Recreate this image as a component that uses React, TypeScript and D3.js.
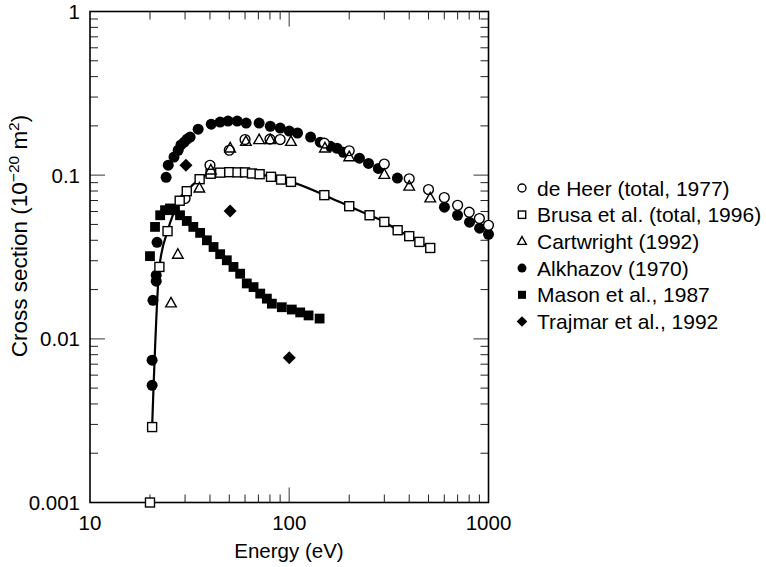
import React from "react";
import * as d3 from "d3";

// ---- data (energy in eV, cross section in 1e-20 m^2) ----
const deHeerE = [30, 40, 50, 60, 80, 90, 150, 200, 300, 400, 500, 600, 700, 800, 900, 1000];
const deHeerS = [0.072, 0.115, 0.142, 0.165, 0.166, 0.165, 0.157, 0.141, 0.117, 0.095, 0.0817, 0.073, 0.0655, 0.0594, 0.0543, 0.0494];

const brusaE = [20, 20.5, 22.3, 24.5, 28.2, 30.6, 35.5, 40.3, 45, 50, 55, 60, 65, 71, 81, 91, 102, 150, 200, 253, 300, 350, 400, 450, 510];
const brusaS = [0.001, 0.00289, 0.0275, 0.0455, 0.0698, 0.0798, 0.0945, 0.102, 0.1036, 0.1043, 0.104, 0.104, 0.1024, 0.1014, 0.0977, 0.094, 0.091, 0.0755, 0.0646, 0.0569, 0.0518, 0.0461, 0.0424, 0.0391, 0.0359];

const cartE = [25.5, 27.6, 35.4, 40.4, 50.5, 60.6, 70.6, 80.3, 102, 151, 200, 300, 400, 510];
const cartS = [0.0165, 0.0327, 0.083, 0.107, 0.146, 0.16, 0.164, 0.164, 0.16, 0.146, 0.129, 0.1007, 0.0853, 0.0723];

const alkE = [20.5, 20.5, 20.7, 21.5, 21.5, 21.7, 24.1, 24.7, 26.4, 27.7, 28.6, 29.7, 30.7, 31.8, 34.9, 40.6, 45, 49.3, 54.8, 60.8, 70.6, 80.3, 90.1, 100, 110, 128, 143, 161, 174, 187, 225, 250, 280, 349, 601, 699, 803, 902, 1000];
const alkS = [0.0052, 0.0074, 0.0172, 0.0225, 0.0245, 0.0389, 0.097, 0.115, 0.129, 0.142, 0.153, 0.159, 0.166, 0.171, 0.191, 0.205, 0.211, 0.214, 0.214, 0.208, 0.208, 0.199, 0.194, 0.186, 0.181, 0.171, 0.159, 0.15, 0.146, 0.138, 0.127, 0.118, 0.11, 0.096, 0.0637, 0.0569, 0.0516, 0.0474, 0.0435];

const masonE = [20.0, 21.2, 22.5, 23.8, 25.2, 26.7, 28.3, 30.6, 33.0, 35.7, 38.6, 41.7, 45, 48.6, 52.5, 56.7, 61.2, 66.2, 71.5, 77.2, 81.8, 91.8, 103, 113.5, 125, 142];
const masonS = [0.032, 0.0483, 0.0569, 0.0611, 0.0626, 0.0611, 0.0569, 0.0525, 0.0483, 0.0444, 0.04, 0.0364, 0.0329, 0.0302, 0.0275, 0.025, 0.0218, 0.0207, 0.0189, 0.0176, 0.0164, 0.0156, 0.0151, 0.0145, 0.0139, 0.0133];

const trajE = [30.3, 50.5, 100];
const trajS = [0.115, 0.0603, 0.00767];

const xTickLabels = ["10", "100", "1000"];
const yTickLabels = ["0.001", "0.01", "0.1", "1"];
const legendLabels = [
  "de Heer (total, 1977)",
  "Brusa et al. (total, 1996)",
  "Cartwright (1992)",
  "Alkhazov (1970)",
  "Mason et al., 1987",
  "Trajmar et al., 1992",
];

type Kind = "circleOpen" | "squareOpen" | "triOpen" | "circle" | "square" | "diamond";

function Marker({ kind, cx, cy, s = 1 }: { kind: Kind; cx: number; cy: number; s?: number }) {
  const sw = 1.4;
  switch (kind) {
    case "circleOpen":
      return <circle cx={cx} cy={cy} r={4.9 * s} fill="white" stroke="black" strokeWidth={sw} />;
    case "circle":
      return <circle cx={cx} cy={cy} r={5.5 * s} fill="black" />;
    case "squareOpen": {
      const h = 4.5 * s;
      return <rect x={cx - h} y={cy - h} width={2 * h} height={2 * h} fill="white" stroke="black" strokeWidth={sw} />;
    }
    case "square": {
      const h = 4.9 * s;
      return <rect x={cx - h} y={cy - h} width={2 * h} height={2 * h} fill="black" />;
    }
    case "triOpen": {
      const r = 5.9 * s;
      const p = [
        [cx, cy - r],
        [cx + r * 0.9, cy + r * 0.62],
        [cx - r * 0.9, cy + r * 0.62],
      ];
      return <polygon points={p.map((q) => q.join(",")).join(" ")} fill="none" stroke="black" strokeWidth={sw} />;
    }
    case "diamond": {
      const r = 6.5 * s;
      const p = [
        [cx, cy - r],
        [cx + r, cy],
        [cx, cy + r],
        [cx - r, cy],
      ];
      return <polygon points={p.map((q) => q.join(",")).join(" ")} fill="black" />;
    }
  }
  return null;
}

export default function App() {
  const x = d3.scaleLog().domain([10, 1000]).range([90, 488.5]);
  const y = d3.scaleLog().domain([0.001, 1]).range([502.5, 11.5]);
  const [x0, x1] = x.range();
  const [y0, y1] = y.range();

  const majX = [10, 100, 1000];
  const minX: number[] = [];
  [10, 100].forEach((d) => { for (let k = 2; k <= 9; k++) minX.push(d * k); });
  const majY = [0.001, 0.01, 0.1, 1];
  const minY: number[] = [];
  [0.001, 0.01, 0.1].forEach((d) => { for (let k = 2; k <= 9; k++) minY.push(d * k); });

  const L = 15, l = 8;
  const ticks: JSX.Element[] = [];
  minX.forEach((v, i) => {
    const px = x(v);
    ticks.push(<line key={"bx" + i} x1={px} x2={px} y1={y0} y2={y0 - l} stroke="#222" strokeWidth={1} />);
    ticks.push(<line key={"tx" + i} x1={px} x2={px} y1={y1} y2={y1 + l} stroke="#222" strokeWidth={1} />);
  });
  majX.slice(1, -1).forEach((v, i) => {
    const px = x(v);
    ticks.push(<line key={"bX" + i} x1={px} x2={px} y1={y0} y2={y0 - L} stroke="#777" strokeWidth={1.5} />);
    ticks.push(<line key={"tX" + i} x1={px} x2={px} y1={y1} y2={y1 + L} stroke="#777" strokeWidth={1.5} />);
  });
  minY.forEach((v, i) => {
    const py = y(v);
    ticks.push(<line key={"ly" + i} x1={x0} x2={x0 + l} y1={py} y2={py} stroke="#222" strokeWidth={1} />);
    ticks.push(<line key={"ry" + i} x1={x1} x2={x1 - l} y1={py} y2={py} stroke="#222" strokeWidth={1} />);
  });
  majY.slice(1, -1).forEach((v, i) => {
    const py = y(v);
    ticks.push(<line key={"lY" + i} x1={x0} x2={x0 + L} y1={py} y2={py} stroke="#777" strokeWidth={1.5} />);
    ticks.push(<line key={"rY" + i} x1={x1} x2={x1 - L} y1={py} y2={py} stroke="#777" strokeWidth={1.5} />);
  });

  const pts = (E: number[], S: number[]) => E.map((e, i) => [x(e), y(S[i])] as [number, number]);

  const brusaLine = d3.line<[number, number]>().curve(d3.curveMonotoneX)(pts(brusaE, brusaS).slice(1)) || "";

  const series: { kind: Kind; E: number[]; S: number[] }[] = [
    { kind: "circle", E: alkE, S: alkS },
    { kind: "square", E: masonE, S: masonS },
    { kind: "diamond", E: trajE, S: trajS },
    { kind: "circleOpen", E: deHeerE, S: deHeerS },
    { kind: "squareOpen", E: brusaE, S: brusaS },
    { kind: "triOpen", E: cartE, S: cartS },
  ];
  const legendKinds: Kind[] = ["circleOpen", "squareOpen", "triOpen", "circle", "square", "diamond"];

  const font = "'Liberation Sans', Arial, Helvetica, sans-serif";

  return (
    <svg width={766} height={567} style={{ position: "absolute", left: 0, top: 0, background: "white" }} fontFamily={font}>
      <rect x={0} y={0} width={766} height={567} fill="white" />
      {ticks}
      <rect x={x0} y={y1} width={x1 - x0} height={y0 - y1} fill="none" stroke="black" strokeWidth={1.6} />

      <path d={brusaLine} fill="none" stroke="black" strokeWidth={2.2} />

      {series.map((s, si) =>
        pts(s.E, s.S).map(([cx, cy], i) => <Marker key={si + "-" + i} kind={s.kind} cx={cx} cy={cy} />)
      )}

      {majX.map((v, i) => (
        <text key={"xl" + i} x={x(v)} y={530} textAnchor="middle" fontSize={20.5}>
          {xTickLabels[i]}
        </text>
      ))}
      {majY.map((v, i) => (
        <text key={"yl" + i} x={80} y={y(v)} dy="0.36em" textAnchor="end" fontSize={20.5}>
          {yTickLabels[i]}
        </text>
      ))}
      <text x={289} y={558} textAnchor="middle" fontSize={20.5}>Energy (eV)</text>
      <text transform="translate(27,236) rotate(-90)" textAnchor="middle" fontSize={22.5}>
        Cross section (10
        <tspan dy={-8.5} fontSize={15.5}>−20</tspan>
        <tspan dy={8.5}> m</tspan>
        <tspan dy={-8.5} fontSize={15.5}>2</tspan>
        <tspan dy={8.5}>)</tspan>
      </text>

      {legendLabels.map((t, i) => {
        const ly = 188 + i * 26.7;
        return (
          <g key={"lg" + i}>
            <Marker kind={legendKinds[i]} cx={522} cy={ly} s={0.82} />
            <text x={537} y={ly} dy="0.36em" fontSize={21}>{t}</text>
          </g>
        );
      })}
    </svg>
  );
}
